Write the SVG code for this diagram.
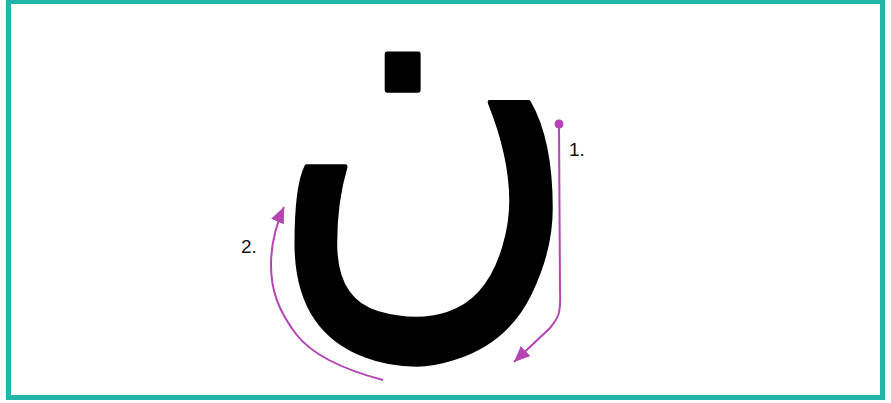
<svg xmlns="http://www.w3.org/2000/svg" width="891" height="403" viewBox="0 0 891 403">
<style>
.lbl{font-family:"Liberation Sans",Arial,sans-serif;font-size:19px;fill:#111}
.arr{fill:none;stroke:#b545b5;stroke-width:2}
.glyph{font-family:"DejaVu Sans",sans-serif;fill:#000;stroke:#000;stroke-width:4;stroke-linejoin:round}
</style>
<defs>
<marker id="ah" markerUnits="userSpaceOnUse" markerWidth="18" markerHeight="14" refX="16" refY="7" orient="auto">
<path d="M0,0 L16,7 L0,14 Z" fill="#b545b5"/>
</marker>
</defs>
<rect x="8.5" y="1.5" width="874" height="396" fill="#fff" stroke="#22b5aa" stroke-width="5"/>
<g id="letter">
<text class="glyph" x="300" y="300" font-size="400" transform="matrix(1.079,0,0,1.24,-58,-88)">ن</text>
</g>
<g id="connectors">
<circle cx="559" cy="124" r="4.5" fill="#b545b5"/>
<path class="arr" d="M559,124 L560,290 C561,315 558,318 550,328 L514,362" marker-end="url(#ah)"/>
<path class="arr" d="M383,380 C345,370 312,355 296,334 C278,310 271,290 271,265 C271,243 276,225 284,207" marker-end="url(#ah)"/>
</g>
<g id="labels">
<text class="lbl" x="569" y="156">1.</text>
<text class="lbl" x="241" y="253">2.</text>
</g>
</svg>
